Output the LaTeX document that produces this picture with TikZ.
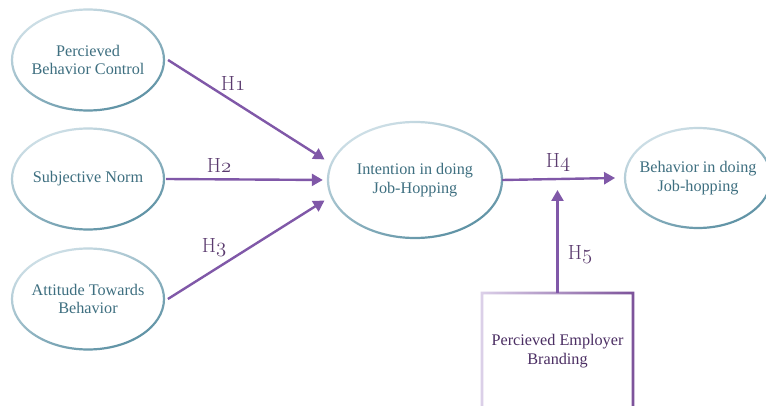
\documentclass[tikz,border=0pt]{standalone}
\usepackage{fontspec}
\newfontfamily\lib{Liberation Serif}
\usetikzlibrary{arrows.meta,shapes.geometric,calc}
\newcommand\osn[1]{{\usefont{OML}{cmm}{m}{it}#1}}
\definecolor{elL}{HTML}{D2E2E9}
\definecolor{elR}{HTML}{5A8FA2}
\definecolor{eltext}{HTML}{3E6F80}
\definecolor{arrc}{HTML}{8058A8}
\definecolor{htext}{HTML}{5A3A6E}
\definecolor{bxL}{HTML}{DDD2EA}
\definecolor{bxR}{HTML}{7A4F98}
\definecolor{bxtext}{HTML}{4B2E63}
\newcommand\myring[4]{%
  \begin{scope}[even odd rule]
    \clip (#1,#2) ellipse ({#3+1.1} and {#4+1.1}) (#1,#2) ellipse ({#3-1.1} and {#4-1.1});
    \shade[left color=elL, right color=elR, shading angle=25] ({#1-#3-4},{#2-#4-4}) rectangle ({#1+#3+4},{#2+#4+4});
  \end{scope}}
\tikzset{
  ell/.style={ellipse, draw=none, fill=white, inner sep=0pt, align=center, text=eltext,
    font=\lib\fontsize{16.2}{18.5}\selectfont},
  arr/.style={draw=arrc, line width=2.4pt, -{Triangle[length=11pt,width=12pt]}},
  hlab/.style={text=htext, font=\fontsize{20.5}{23}\selectfont},
  bx/.style={rectangle, draw=none, fill=white, inner sep=0pt, align=center, text=bxtext,
    font=\lib\fontsize{16.2}{18.5}\selectfont}
}
\begin{document}
\begin{tikzpicture}[x=1pt,y=-1pt]
\useasboundingbox (0,0) rectangle (766,406);
\clip (0,0) rectangle (766,406);
\fill[white] (0,0) rectangle (766,406);
% nodes
\node[ell, minimum width=152pt, minimum height=101pt] (pbc) at (88,60) {Percieved\\Behavior Control};
\node[ell, minimum width=152pt, minimum height=101pt] (sn) at (88,179) {Subjective Norm};
\node[ell, minimum width=152pt, minimum height=101pt] (atb) at (88,299) {Attitude Towards\\Behavior};
\node[ell, minimum width=174pt, minimum height=116pt] (int) at (415,180) {Intention in doing\\Job-Hopping};
\node[ell, minimum width=146pt, minimum height=100pt] (beh) at (698,178) {Behavior in doing\\Job-hopping};
\node[bx, minimum width=151pt, minimum height=116pt] (peb) at (557.5,351) {Percieved Employer\\Branding};
% rings
\myring{88}{60}{76}{50.5}
\myring{88}{179}{76}{50.5}
\myring{88}{299}{76}{50.5}
\myring{415}{180}{87}{58}
\myring{698}{178}{73}{50}
\begin{scope}[even odd rule]
  \clip (480.7,291.7) rectangle (634.3,420) (483.3,294.3) rectangle (631.7,420);
  \shade[left color=bxL, right color=bxR] (478,288) rectangle (638,420);
\end{scope}
% connectors
\coordinate (h5end) at (557.5,190);
\draw[arr, shorten >=8pt] (pbc.east) -- (int.169);
\draw[arr, shorten >=5pt] (sn.east) -- (int.west);
\draw[arr, shorten >=8pt] (atb.east) -- (int.191);
\draw[arr] (int.east) -- (beh.west);
\draw[arr] (peb.north) -- (h5end);
% labels
\node[hlab] (l1) at (233,84) {H\osn{1}};
\node[hlab] (l2) at (219,166) {H\osn{2}};
\node[hlab] (l3) at (214,248) {H\osn{3}};
\node[hlab] (l4) at (558,163) {H\osn{4}};
\node[hlab] (l5) at (580,255) {H\osn{5}};
\end{tikzpicture}
\end{document}
